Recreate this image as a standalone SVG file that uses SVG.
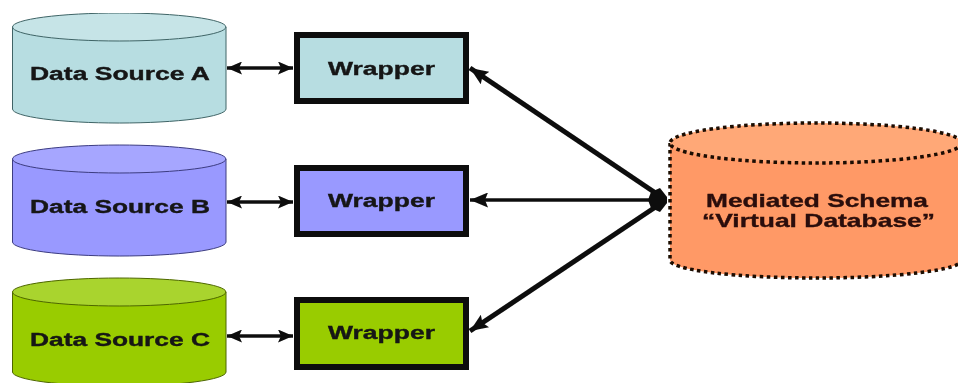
<svg xmlns="http://www.w3.org/2000/svg" width="958" height="383" viewBox="0 0 958 383">
<style>
text{font-family:"Liberation Sans",Arial,sans-serif;font-weight:bold;fill:#141414;stroke:#141414;stroke-width:.35;text-anchor:start}
.src{font-size:17.5px}
.wrap{font-size:18px}
.med{font-size:18.5px;fill:#2a0d08;stroke:#2a0d08}
.cyl{stroke-width:1}
.a{fill:#b7dde1;stroke:#3f6466}.at{fill:#c6e4e7;stroke:#3f6466}
.b{fill:#9999ff;stroke:#3c3c80}.bt{fill:#a6a6ff;stroke:#3c3c80}
.c{fill:#99cc00;stroke:#4d6600}.ct{fill:#a9d42e;stroke:#4d6600}
.wr{stroke:#0a0a0a;stroke-width:6}
.m{fill:#ff9966;stroke:#1a0a05;stroke-width:3.500;stroke-dasharray:3.500 3.500}
.mt{fill:#ffa877;stroke:#1a0a05;stroke-width:3.500;stroke-dasharray:3.500 3.500}
.thin{stroke:#0a0a0a;stroke-width:3.500;fill:none;marker-start:url(#hs);marker-end:url(#he)}
.thick{stroke:#0a0a0a;fill:none;marker-end:url(#hl)}
</style>
<defs>
<filter id="soft" x="0" y="0" width="100%" height="100%"><feGaussianBlur stdDeviation="0.5"/></filter>
<marker id="he" viewBox="0 0 15 13" refX="15" refY="6.500" markerUnits="userSpaceOnUse" markerWidth="15" markerHeight="13" orient="auto"><path d="M0 0L15 6.500L0 13L3 6.500Z" fill="#0a0a0a"/></marker>
<marker id="hs" viewBox="0 0 15 13" refX="0" refY="6.500" markerUnits="userSpaceOnUse" markerWidth="15" markerHeight="13" orient="auto"><path d="M15 0L0 6.500L15 13L12 6.500Z" fill="#0a0a0a"/></marker>
<marker id="hl" viewBox="0 0 18 15" refX="18" refY="7.500" markerUnits="userSpaceOnUse" markerWidth="18" markerHeight="15" orient="auto"><path d="M0 0L18 7.500L0 15L3 7.500Z" fill="#0a0a0a"/></marker>
</defs>
<rect width="958" height="383" fill="#ffffff"/>
<g filter="url(#soft)">
<g id="connectors">
<line class="thin" x1="227" y1="68" x2="293" y2="68"/>
<line class="thin" x1="227" y1="202" x2="293" y2="202"/>
<line class="thin" x1="227" y1="336" x2="293" y2="336"/>
<line class="thick" stroke-width="5" x1="660" y1="196" x2="470" y2="68"/>
<line class="thick" stroke-width="3.500" x1="660" y1="200" x2="470" y2="200"/>
<line class="thick" stroke-width="5" x1="660" y1="204" x2="470" y2="331"/>
<path d="M667 197L660 188L651 192L648 200L651 208L660 212L667 203Z" fill="#0a0a0a"/>
</g>
<g id="source-a">
<path class="a cyl" d="M12.500 27V109A106.500 14 0 0 0 226 109V27Z"/>
<ellipse class="at cyl" cx="119.200" cy="27" rx="106.700" ry="14"/>
<text class="src" x="30" y="80" textLength="180" lengthAdjust="spacingAndGlyphs">Data Source A</text>
</g>
<g id="source-b">
<path class="b cyl" d="M12.500 159V242A106.500 14 0 0 0 226 242V159Z"/>
<ellipse class="bt cyl" cx="119.200" cy="159" rx="106.700" ry="14"/>
<text class="src" x="30" y="213" textLength="180" lengthAdjust="spacingAndGlyphs">Data Source B</text>
</g>
<g id="source-c">
<path class="c cyl" d="M12.500 292V372A106.500 14 0 0 0 226 372V292Z"/>
<ellipse class="ct cyl" cx="119.200" cy="292" rx="106.700" ry="14"/>
<text class="src" x="30" y="346" textLength="180" lengthAdjust="spacingAndGlyphs">Data Source C</text>
</g>
<g id="wrapper-a">
<rect class="a" style="stroke:#0a0a0a;stroke-width:6" x="297" y="35" width="169" height="66"/>
<text class="wrap" x="328" y="75" textLength="107" lengthAdjust="spacingAndGlyphs">Wrapper</text>
</g>
<g id="wrapper-b">
<rect class="b" style="stroke:#0a0a0a;stroke-width:6" x="297" y="168" width="169" height="66"/>
<text class="wrap" x="328" y="207" textLength="107" lengthAdjust="spacingAndGlyphs">Wrapper</text>
</g>
<g id="wrapper-c">
<rect class="c" style="stroke:#0a0a0a;stroke-width:6" x="297" y="300" width="169" height="67"/>
<text class="wrap" x="328" y="339" textLength="107" lengthAdjust="spacingAndGlyphs">Wrapper</text>
</g>
<g id="mediated-schema">
<path class="m" d="M670 143V260A146 18 0 0 0 962 260V143Z"/>
<ellipse class="mt" cx="816" cy="143" rx="146" ry="20"/>
<text class="med" x="706" y="207" textLength="222" lengthAdjust="spacingAndGlyphs">Mediated Schema</text>
<text class="med" x="702" y="227" textLength="233" lengthAdjust="spacingAndGlyphs">“Virtual Database”</text>
</g>
</g>
</svg>
